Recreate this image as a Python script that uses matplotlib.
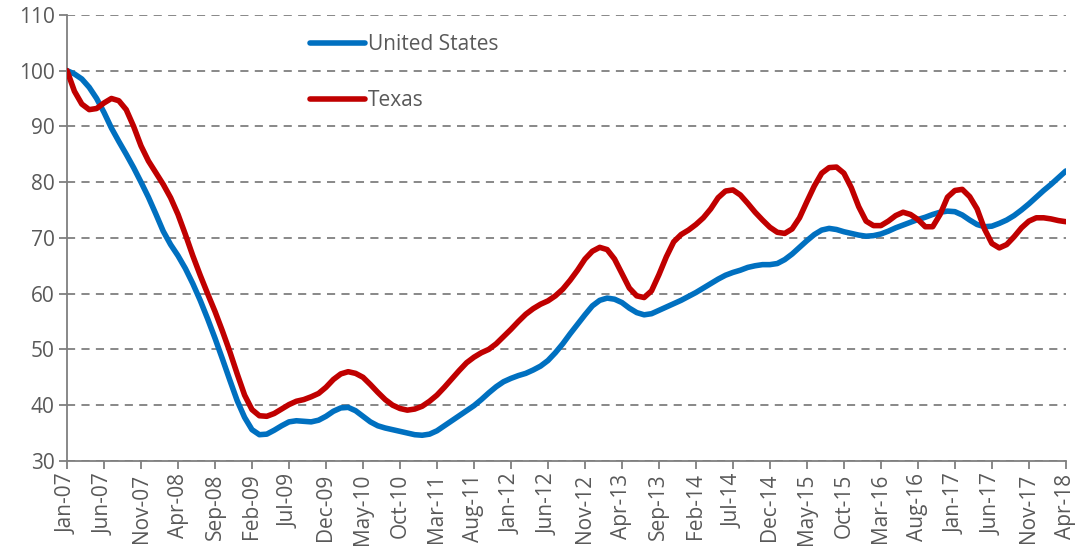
import numpy as np
import pandas as pd
import matplotlib
matplotlib.use("Agg")
import matplotlib.pyplot as plt

# monthly index, Jan-07 = 100
months = pd.date_range("2007-01-01", "2018-04-01", freq="MS")

united_states = [
    100, 99.4, 98.5, 97, 95, 92.5, 89.7, 87.3, 85, 82.6,
    80, 77.3, 74.3, 71.2, 68.8, 66.8, 64.5, 61.8, 58.8, 55.5,
    52, 48.3, 44.5, 40.8, 37.8, 35.6, 34.7, 34.8, 35.5, 36.3,
    37, 37.2, 37.1, 37, 37.3, 38, 38.9, 39.5, 39.6, 39,
    38, 37, 36.3, 35.9, 35.6, 35.3, 35, 34.7, 34.6, 34.8,
    35.4, 36.3, 37.2, 38.1, 39, 39.9, 41, 42.2, 43.3, 44.2,
    44.8, 45.3, 45.7, 46.3, 47, 48, 49.4, 51, 52.8, 54.5,
    56.2, 57.8, 58.8, 59.2, 59, 58.4, 57.4, 56.6, 56.2, 56.4,
    57, 57.6, 58.2, 58.8, 59.5, 60.2, 61, 61.8, 62.6, 63.3,
    63.8, 64.2, 64.7, 65, 65.2, 65.2, 65.4, 66.1, 67.1, 68.3,
    69.5, 70.6, 71.4, 71.7, 71.5, 71.1, 70.8, 70.5, 70.3, 70.4,
    70.7, 71.2, 71.8, 72.3, 72.8, 73.3, 73.7, 74.2, 74.6, 74.8,
    74.7, 74.1, 73.2, 72.4, 72, 72.1, 72.6, 73.2, 74, 75,
    76.1, 77.3, 78.5, 79.6, 80.8, 82,
]

texas = [
    100, 96.3, 94, 93, 93.2, 94.2, 95, 94.6, 93, 90,
    86.5, 83.8, 81.7, 79.6, 77.2, 74.2, 70.6, 66.8, 63.3, 60,
    56.8, 53.3, 49.6, 45.6, 41.8, 39.2, 38.1, 38, 38.5, 39.3,
    40.1, 40.7, 41, 41.5, 42.1, 43.2, 44.6, 45.6, 46, 45.7,
    45, 43.7, 42.3, 41, 40, 39.4, 39.1, 39.3, 39.8, 40.7,
    41.8, 43.2, 44.7, 46.2, 47.6, 48.6, 49.4, 50, 51, 52.3,
    53.6, 55, 56.3, 57.3, 58.1, 58.7, 59.6, 60.8, 62.4, 64.2,
    66.2, 67.6, 68.3, 67.9, 66.2, 63.6, 61, 59.6, 59.3, 60.5,
    63.4, 66.6, 69.3, 70.6, 71.4, 72.4, 73.6, 75.2, 77.2, 78.4,
    78.6, 77.7, 76.2, 74.6, 73.2, 71.9, 71, 70.8, 71.6, 73.6,
    76.5, 79.3, 81.6, 82.6, 82.7, 81.6, 79, 75.6, 73, 72.2,
    72.2, 73, 74, 74.6, 74.2, 73.3, 72, 72, 74.2, 77.3,
    78.5, 78.7, 77.4, 75.2, 71.6, 69, 68.2, 68.8, 70.2, 71.8,
    73, 73.6, 73.6, 73.4, 73.1, 72.9,
]

tick_labels = [d.strftime("%b-%y") for d in months[::5]]
x = np.arange(len(months))

grey = "#7f7f7f"
text_grey = "#595959"
fsize = 15

fig = plt.figure(figsize=(10.81, 5.5), dpi=100)
ax = fig.add_axes([0.062, 0.162, 0.924, 0.811])

ax.plot(x, united_states, color="#0070C0", lw=4, label="United States",
        solid_capstyle="round", zorder=3)
ax.plot(x, texas, color="#C00000", lw=4, label="Texas",
        solid_capstyle="round", zorder=3)

ax.set_xlim(0, len(months) - 1)
ax.set_ylim(30, 110)
ax.set_yticks(range(30, 111, 10))
ax.set_xticks(x[::5])
ax.set_xticklabels(tick_labels, rotation=90, fontsize=fsize, color=text_grey,
                   family="Open Sans")
for lab in ax.get_yticklabels():
    lab.set_fontsize(fsize)
    lab.set_color(text_grey)
    lab.set_family("Open Sans")

ax.yaxis.grid(True, linestyle=(0, (4.5, 3.5)), color=grey, lw=1.3)
ax.set_axisbelow(True)
for side in ["top", "right"]:
    ax.spines[side].set_visible(False)
for side in ["left", "bottom"]:
    ax.spines[side].set_color(grey)
    ax.spines[side].set_linewidth(1.3)
ax.tick_params(axis="both", colors=grey, length=6, width=1.3, pad=3)
ax.tick_params(axis="x", labelcolor=text_grey)
ax.tick_params(axis="y", labelcolor=text_grey)

leg = ax.legend(frameon=False, loc="upper left", bbox_to_anchor=(0.243, 0.957),
                borderpad=0, borderaxespad=0,
                handlelength=2.65, handletextpad=0.15, labelspacing=1.7,
                prop={"family": "Open Sans", "size": fsize})
for t in leg.get_texts():
    t.set_color(text_grey)

fig.savefig("out.png", dpi=100)
